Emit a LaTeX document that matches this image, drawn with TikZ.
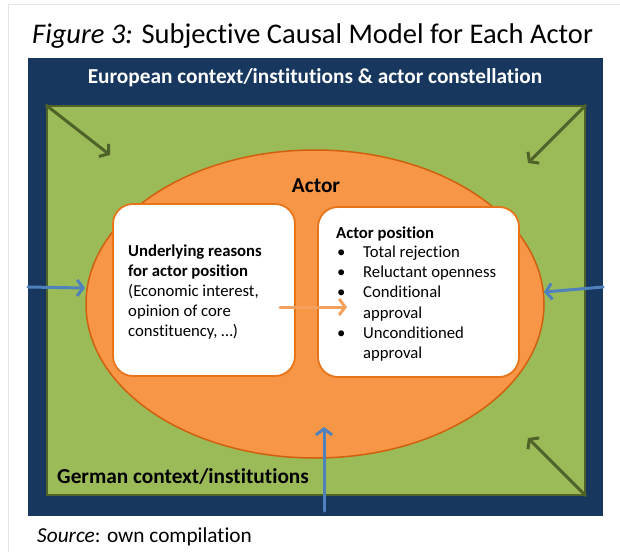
\documentclass[tikz,border=0pt]{standalone}
\usepackage{fontspec}
\setmainfont{Carlito}[Ligatures={NoCommon,NoRare}]
\usetikzlibrary{arrows.meta,shapes.geometric}
\definecolor{navy}{HTML}{17375E}
\definecolor{grass}{HTML}{9BBB59}
\definecolor{grassline}{HTML}{4F6228}
\definecolor{orangefill}{HTML}{F79646}
\definecolor{orangeedge}{HTML}{D0600E}
\definecolor{boxedge}{HTML}{E8741A}
\definecolor{bluearrow}{HTML}{4F81BD}
\definecolor{orangearrow}{HTML}{F5A05C}
\definecolor{pagegray}{HTML}{E6E6E6}
\tikzset{
  barb/.style={-{Straight Barb[length=6pt,width=16pt]}, line width=3pt, line cap=round},
  greenarrow/.style={barb, draw=grassline},
  bluearr/.style={barb, draw=bluearrow},
  orangearr/.style={barb, draw=orangearrow},
  whitebox/.style={draw=boxedge, line width=1.8pt, fill=white, rounded corners=20pt, inner sep=0pt},
  boxtext/.style={anchor=base west, inner sep=0pt, font=\fontsize{16.7}{20}\selectfont},
  boxbold/.style={boxtext, font=\fontsize{16.7}{20}\selectfont\bfseries},
  headtext/.style={inner sep=0pt, font=\fontsize{21.3}{25}\selectfont\bfseries}
}
\begin{document}
\begin{tikzpicture}[x=1pt,y=-1pt]
\useasboundingbox (0,0) rectangle (620,552);
\fill[white] (0,0) rectangle (620,552);
\draw[pagegray, line width=1pt] (8,552) -- (8,4) -- (620,4);

% title
\node[anchor=base west, inner sep=0pt, font=\fontsize{28.5}{32}\selectfont] (title) at (32,43) {\textit{Figure 3:} Subjective Causal Model for Each Actor};

% frames
\node[fill=navy, minimum width=575pt, minimum height=458pt, inner sep=0pt] (outer) at (315.5,287) {};
\node[fill=grass, draw=grassline, line width=1.2pt, minimum width=538pt, minimum height=389pt, inner sep=0pt] (green) at (316,300.5) {};
\node[ellipse, fill=orangefill, draw=orangeedge, line width=1.5pt, minimum width=458pt, minimum height=308pt, inner sep=0pt] (actor) at (315,304) {};

\node[headtext, white, anchor=base] (eu) at (315,83) {European context/institutions \& actor constellation};
\node[headtext, anchor=base] (actorlabel) at (316,192) {Actor};
\node[headtext, anchor=base west] (de) at (57,483) {German context/institutions};

% boxes
\node[whitebox, minimum width=182pt, minimum height=172pt] (reasons) at (204,290) {};
\node[whitebox, minimum width=201pt, minimum height=170pt] (position) at (418.5,292) {};

\node[boxbold] (r1) at (128,256) {Underlying reasons};
\node[boxbold] (r2) at (128,276) {for actor position};
\node[boxtext] (r3) at (128,296) {(Economic interest,};
\node[boxtext] (r4) at (128,316) {opinion of core};
\node[boxtext] (r5) at (128,336) {constituency, …)};

\node[boxbold] (p0) at (336,238) {Actor position};
\node[boxtext] (b1) at (337,257) {•};
\node[boxtext] (p1) at (363,257) {Total rejection};
\node[boxtext] (b2) at (337,277) {•};
\node[boxtext] (p2) at (363,277) {Reluctant openness};
\node[boxtext] (b3) at (337,297) {•};
\node[boxtext] (p3) at (363,297) {Conditional};
\node[boxtext] (p3b) at (363,318) {approval};
\node[boxtext] (b4) at (337,338) {•};
\node[boxtext] (p4) at (363,338) {Unconditioned};
\node[boxtext] (p4b) at (363,358) {approval};

% source
\node[anchor=base west, inner sep=0pt, font=\fontsize{21.3}{25}\selectfont] (source) at (37,542) {\textit{Source}: own compilation};

% arrow end points
\coordinate (tl) at (110,155);
\coordinate (tr) at (528,163);
\coordinate (br) at (528,438);
\coordinate (lt) at (85,288);
\coordinate (rt) at (544,292);
\coordinate (bs) at (324,511);
\coordinate (bt) at (324,427);
\coordinate (os) at (280,307);
\coordinate (ot) at (347,307);

\draw[greenarrow] (green.north west) -- (tl);
\draw[greenarrow] (green.north east) -- (tr);
\draw[greenarrow] (green.south east) -- (br);
\draw[bluearr] (outer.west) -- (lt);
\draw[bluearr] (outer.east) -- (rt);
\draw[bluearr] (bs) -- (bt);
\draw[orangearr] (os) -- (ot);
\end{tikzpicture}
\end{document}
